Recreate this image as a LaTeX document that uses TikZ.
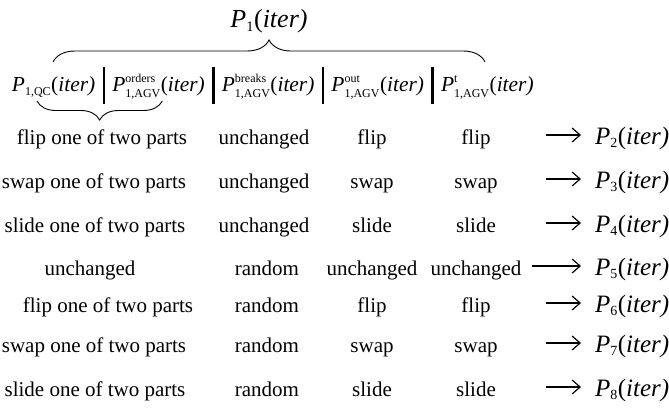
\documentclass[tikz,border=0pt]{standalone}
\usepackage{amsmath}
\usepackage{fontspec}
\setmainfont{Liberation Serif}
\newfontfamily\timi{Liberation Serif Italic}
\usetikzlibrary{decorations.pathreplacing,arrows.meta,calc}
\DeclareMathSizes{21.4}{21.4}{12}{9}
\DeclareMathSizes{25}{25}{14}{10}
\DeclareMathSizes{26}{26}{14.5}{10}
\newcommand\Pss[2]{$\text{\timi P}^{\text{#2}}_{\text{#1}}\text{(\timi iter\/)}$}
\newcommand\Ps[1]{$\text{\timi P}_{\text{#1}}\text{(\timi iter\/)}$}
\begin{document}
\begin{tikzpicture}[x=1pt,y=-1pt,
  every node/.style={inner sep=0pt,outer sep=0pt},
  body/.style={font=\fontsize{21}{25}\selectfont,anchor=base},
  head/.style={font=\fontsize{21.4}{26}\selectfont,anchor=base west},
  big/.style={font=\fontsize{25}{30}\selectfont},
  bigger/.style={font=\fontsize{26}{31}\selectfont},
  bar/.style={line width=2.4pt},
  brc/.style={decorate,decoration={brace,amplitude=#1},line width=0.9pt},
  arr/.style={-{Straight Barb[length=8pt,width=14pt,line width=1.2pt]},line width=1.2pt}]
\useasboundingbox (0,0) rectangle (669,409);
% header
\node[head] (h1) at (12,92) {\Ps{1,QC}};
\node[head] (h2) at ($(h1.base east)+(17,0)$) {\Pss{1,AGV}{orders}};
\node[head] (h3) at ($(h2.base east)+(17,0)$) {\Pss{1,AGV}{breaks}};
\node[head] (h4) at ($(h3.base east)+(17,0)$) {\Pss{1,AGV}{out}};
\node[head] (h5) at ($(h4.base east)+(17,0)$) {\Pss{1,AGV}{t}};
\foreach \i/\j in {1/2,2/3,3/4,4/5}{
  \coordinate (b\i) at ($(h\i.base east)!.5!(h\j.base west)$);
  \draw[bar] ([yshift=25pt]b\i) -- ([yshift=-12pt]b\i);
}
% braces
\coordinate (tl) at ($(h1.base west)+(41,-30)$);
\coordinate (tr) at ($(h5.base west)+(44,-30)$);
\draw[brc=22pt] (tl) -- (tr);
\coordinate (ll) at ($(h1.base west)+(25,9)$);
\coordinate (lr) at ($(h2.base west)+(50,9)$);
\draw[brc=19pt] (lr) -- (ll);
% top label
\node[bigger,anchor=base] (top) at ($(tl)!.5!(tr)+(0,-34)$) {\Ps{1}};
% rows
\foreach \k/\y/\xa/\ta/\xb/\tb/\tc/\ax in {
  2/144/102/flip one of two parts/264/unchanged/flip/546,
  3/188/94/swap one of two parts/264/unchanged/swap/546,
  4/232/95/slide one of two parts/264/unchanged/slide/546,
  5/275/90/unchanged/267/random/unchanged/532,
  6/312/108/flip one of two parts/267/random/flip/546,
  7/352/94/swap one of two parts/267/random/swap/546,
  8/396/95/slide one of two parts/267/random/slide/546}{
  \node[body] (c1r\k) at (\xa,\y) {\ta};
  \node[body] (c2r\k) at (\xb,\y) {\tb};
  \node[body] (c3r\k) at (372,\y) {\tc};
  \node[body] (c4r\k) at (476,\y) {\tc};
  \node[big,anchor=base west] (p\k) at (595,\y) {\Ps{\k}};
  \coordinate (a\k) at (\ax,\y-9);
  \draw[arr,shorten >=14pt] (a\k) -- (a\k -| p\k.west);
}
\end{tikzpicture}
\end{document}
